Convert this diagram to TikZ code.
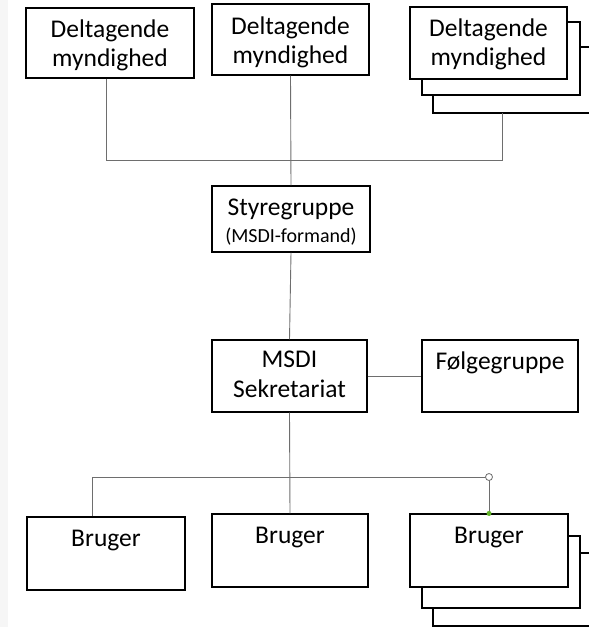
\documentclass[tikz,border=0pt]{standalone}
\usepackage{fontspec}
\setmainfont{Carlito}
\definecolor{linkgray}{RGB}{110,110,110}
\definecolor{handlegreen}{RGB}{96,178,40}
\begin{document}
\begin{tikzpicture}[x=1pt,y=-1pt,
  orgbox/.style={draw=black, line width=1.1pt, fill=white, inner sep=0pt},
  backbox/.style={draw=black, line width=1.1pt, fill=white},
  boxtitle/.style={anchor=base, inner sep=0pt, font=\fontsize{25.5}{30}\selectfont},
  boxnote/.style={anchor=base, inner sep=0pt, font=\fontsize{20}{24}\selectfont},
  link/.style={draw=linkgray, line width=0.9pt}]
\useasboundingbox (0,0) rectangle (589,627);
\clip (0,0) rectangle (589,627);
\fill[gray!7] (0,0) rectangle (8,627);

% participating authorities
\node[orgbox, minimum width=168pt, minimum height=70pt] (d1) at (110,43) {};
\node[boxtitle] (d1a) at ([yshift=-30pt]d1.north) {Deltagende};
\node[boxtitle] (d1b) at ([yshift=-59pt]d1.north) {myndighed};
\node[orgbox, minimum width=157pt, minimum height=71pt] (d2) at (290.5,39.5) {};
\node[boxtitle] (d2a) at ([yshift=-31pt]d2.north) {Deltagende};
\node[boxtitle] (d2b) at ([yshift=-60pt]d2.north) {myndighed};
\draw[backbox] (433,47) rectangle (610,113);
\draw[backbox] (422,22) rectangle (580,95);
\node[orgbox, minimum width=157pt, minimum height=72pt] (d3) at (488.5,43) {};
\node[boxtitle] (d3a) at ([yshift=-30pt]d3.north) {Deltagende};
\node[boxtitle] (d3b) at ([yshift=-59pt]d3.north) {myndighed};
\coordinate (d3s) at (502,113);

% steering group
\node[orgbox, minimum width=158pt, minimum height=66pt] (sty) at (291,219) {};
\node[boxtitle] (stya) at ([yshift=-30pt]sty.north) {Styregruppe};
\node[boxnote] (styb) at ([yshift=-57pt]sty.north) {(MSDI-formand)};

% secretariat and follow group
\node[orgbox, minimum width=155pt, minimum height=72pt] (msdi) at (289.5,376) {};
\node[boxtitle] (msdia) at ([yshift=-28pt]msdi.north) {MSDI};
\node[boxtitle] (msdib) at ([yshift=-58pt]msdi.north) {Sekretariat};
\node[orgbox, minimum width=156pt, minimum height=72pt] (folg) at (500,376) {};
\node[boxtitle] (folgt) at ([yshift=-30pt]folg.north) {Følgegruppe};

% users
\node[orgbox, minimum width=158pt, minimum height=73pt] (b1) at (106,553.5) {};
\node[boxtitle] (b1t) at ([yshift=-30pt]b1.north) {Bruger};
\node[orgbox, minimum width=156pt, minimum height=73pt] (b2) at (290,550.5) {};
\node[boxtitle] (b2t) at ([yshift=-30pt]b2.north) {Bruger};
\draw[backbox] (433,553) rectangle (610,626);
\draw[backbox] (422,536) rectangle (580,608);
\node[orgbox, minimum width=158pt, minimum height=73pt] (b3) at (489,550.5) {};
\node[boxtitle] (b3t) at ([yshift=-30pt]b3.north) {Bruger};

% connectors
\coordinate (top) at (290,160);
\coordinate (handle) at (489,477);
\draw[link] ([xshift=-4pt]d1.south) |- (top);
\draw[link] (d3s) |- (top);
\draw[link] (d2.south) -- (sty.north);
\draw[link] (sty.south) -- (msdi.north);
\draw[link] (msdi.east) -- (folg.west);
\draw[link] (msdi.south) -- (b2.north);
\draw[link] ([xshift=-14pt]b1.north) |- (handle);
\draw[link] (handle) -- (b3.north);
\draw[linkgray, fill=white, line width=0.8pt] (handle) circle (3.5);
\fill[handlegreen] (b3.north) circle (2.5);
\end{tikzpicture}
\end{document}
